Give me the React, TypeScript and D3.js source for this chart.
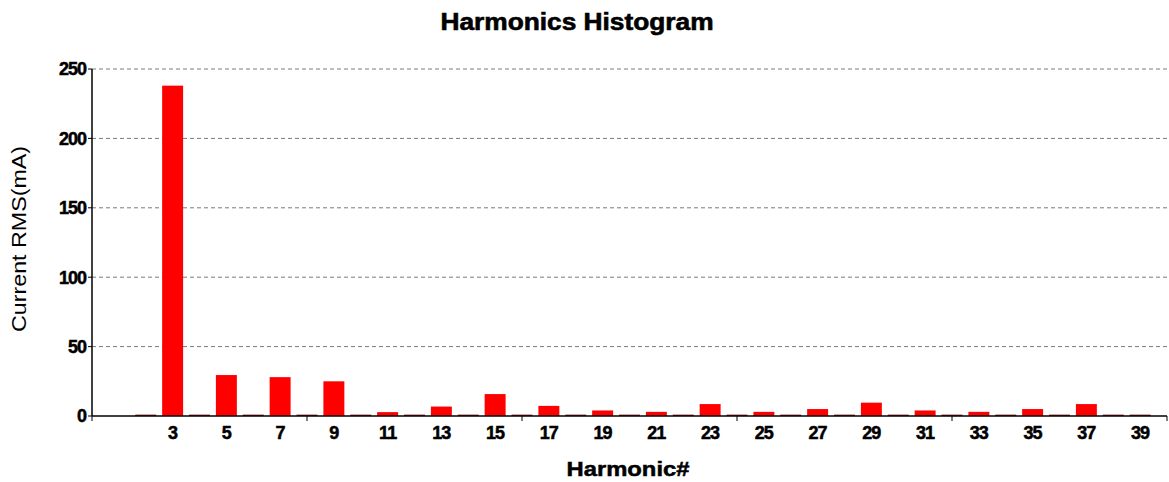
import React from "react";
import * as d3 from "d3";

const harmonics = [2,3,4,5,6,7,8,9,10,11,12,13,14,15,16,17,18,19,20,21,22,23,24,25,26,27,28,29,30,31,32,33,34,35,36,37,38,39];
const currentRms = [1,238,1,29.5,1,28,1,25,1,2.8,1,6.8,1,15.8,1,7.3,1,4,1,3,1,8.6,1,3,1,5,1,9.6,1,4,1,3,1,5,1,8.6,1,1];
const labelHarmonics = [3,5,7,9,11,13,15,17,19,21,23,25,27,29,31,33,35,37,39];
const yTicks = [0,50,100,150,200,250];
const xMinorTicks = [0,8,16,24,32,40];

const W = 1169, H = 482;
const m = { left: 92, right: 2, top: 69, bottom: 66 };

export default function App() {
  const x = d3.scaleLinear().domain([0, 40]).range([m.left, W - m.right]);
  const y = d3.scaleLinear().domain([0, 250]).range([H - m.bottom, m.top]);
  const bw = (x(1) - x(0)) * 0.78;
  const font = "Liberation Sans, Arial, sans-serif";
  const y0 = y(0);
  return (
    <svg width={W} height={H} style={{ position: "absolute", left: 0, top: 0, background: "#fff" }}>
      <text x={577} y={30} textAnchor="middle" fontFamily={font} fontWeight="bold" fontSize={23} fill="#000" stroke="#000" strokeWidth={0.6} textLength={273} lengthAdjust="spacingAndGlyphs">Harmonics Histogram</text>
      {yTicks.filter(t => t > 0).map(t => (
        <line key={"g" + t} x1={x(0)} x2={x(40)} y1={y(t)} y2={y(t)} stroke="#7a7a7a" strokeWidth={1} strokeDasharray="4,3" />
      ))}
      {harmonics.map((h, i) => {
        const v = currentRms[i];
        const top = y(v);
        return (
          <rect key={h} x={x(h) - bw / 2} y={top} width={bw} height={y0 - top}
            fill={v < 1.5 ? "#8e1a1a" : "#ff0000"} />
        );
      })}
      <line x1={x(0)} x2={x(0)} y1={y(250)} y2={y0} stroke="#000" strokeWidth={1.5} />
      <line x1={x(0)} x2={x(40)} y1={y0} y2={y0} stroke="#000" strokeWidth={1.5} />
      {yTicks.map(t => (
        <g key={"y" + t}>
          <line x1={x(0) - 4} x2={x(0)} y1={y(t)} y2={y(t)} stroke="#000" strokeWidth={1} />
          <text x={x(0) - 6} y={y(t)} dy="0.36em" textAnchor="end" fontFamily={font} fontWeight="bold" fontSize={18} letterSpacing={-1} stroke="#000" strokeWidth={0.5} fill="#000">{t}</text>
        </g>
      ))}
      {xMinorTicks.map(t => (
        <line key={"xt" + t} x1={x(t)} x2={x(t)} y1={y0} y2={y0 + 5} stroke="#000" strokeWidth={1} />
      ))}
      {labelHarmonics.map(h => (
        <text key={"xl" + h} x={x(h)} y={439} textAnchor="middle" fontFamily={font} fontWeight="bold" fontSize={18} letterSpacing={-1} stroke="#000" strokeWidth={0.5} fill="#000">{h}</text>
      ))}
      <text x={628} y={476} textAnchor="middle" fontFamily={font} fontWeight="bold" fontSize={21} stroke="#000" strokeWidth={0.5} textLength={123} lengthAdjust="spacingAndGlyphs" fill="#000">Harmonic#</text>
      <text transform="translate(26,239) rotate(-90)" textAnchor="middle" fontFamily={font} fontSize={20} fill="#000" textLength={186} lengthAdjust="spacingAndGlyphs">Current RMS(mA)</text>
    </svg>
  );
}
